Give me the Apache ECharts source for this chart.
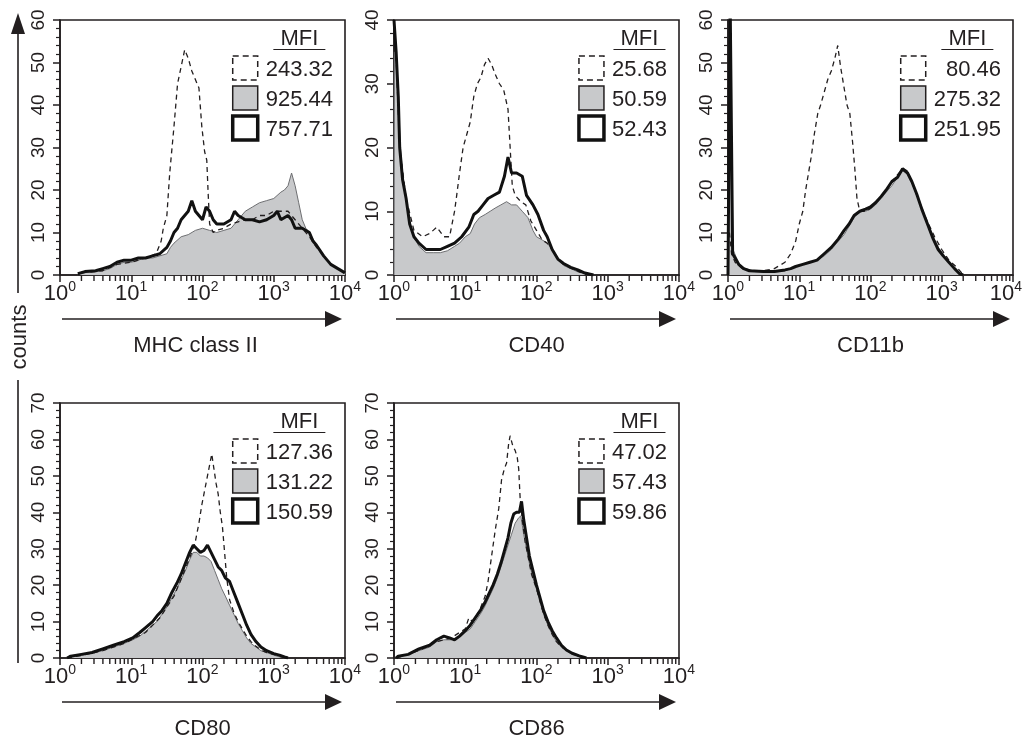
<!DOCTYPE html>
<html>
<head>
<meta charset="utf-8">
<script src="https://cdn.jsdelivr.net/npm/echarts@6/dist/echarts.min.js"></script>
<style>
html,body{margin:0;padding:0;background:#fff;}
#chart{width:1023px;height:740px;}
</style>
</head>
<body>
<div id="chart"></div>
<script>
// ---------- DATA (x = log10 fluorescence, y = counts) ----------
const panelNames = ['MHC class II', 'CD40', 'CD11b', 'CD80', 'CD86'];
const yMaxes = [60, 40, 60, 70, 70];
const xTickExponents = [0, 1, 2, 3, 4];
const minorTickMultipliers = [2, 3, 4, 5, 6, 7, 8, 9];

const mfiDashed = ['243.32', '25.68', '80.46', '127.36', '47.02'];
const mfiGray   = ['925.44', '50.59', '275.32', '131.22', '57.43'];
const mfiThick  = ['757.71', '52.43', '251.95', '150.59', '59.86'];

const mhcGray = [[0.25,0],[0.3,0.5],[0.45,0.8],[0.6,1],[0.7,1.5],[0.8,2.5],[0.9,3],[1.0,3],[1.1,3.5],[1.2,4],[1.3,4],[1.4,4.5],[1.5,5],[1.55,6.5],[1.6,7.5],[1.7,9],[1.8,9.5],[1.9,10.5],[2.0,11],[2.1,10.5],[2.2,10],[2.3,10.5],[2.4,11],[2.5,13],[2.6,15],[2.7,16],[2.8,17],[2.9,17.5],[3.0,18],[3.1,19.5],[3.15,20],[3.2,21],[3.25,24],[3.3,21],[3.35,17],[3.4,13],[3.45,11],[3.5,10],[3.55,8.5],[3.6,7],[3.7,4.5],[3.8,2.5],[3.9,1.5],[4.0,0.5]];
const mhcThick = [[0.25,0.3],[0.35,0.8],[0.5,1],[0.6,1.5],[0.7,2],[0.8,3],[0.9,3.5],[1.0,3.5],[1.1,4],[1.2,4],[1.3,4.5],[1.4,5],[1.5,6.5],[1.55,8],[1.6,10],[1.65,11],[1.7,13],[1.75,14],[1.8,15],[1.85,17.5],[1.9,15],[1.95,14],[2.0,13],[2.05,16],[2.1,15],[2.15,13],[2.2,12],[2.3,12],[2.4,13],[2.45,15],[2.5,14],[2.6,13],[2.7,13],[2.8,12.5],[2.9,13],[3.0,14],[3.05,15],[3.1,13],[3.2,14],[3.25,13],[3.3,11],[3.4,11],[3.5,10],[3.55,8],[3.6,7],[3.7,4.5],[3.8,2.5],[3.9,1.5],[4.0,0.5]];
const mhcDashed = [[0.3,0.5],[0.6,1],[0.8,2.5],[1.0,3],[1.2,4],[1.35,5],[1.42,8],[1.45,11],[1.5,14],[1.54,24],[1.6,35],[1.65,45],[1.7,49],[1.75,53],[1.8,51],[1.85,48],[1.9,46],[1.95,44],[1.99,35],[2.03,29],[2.06,27],[2.08,19],[2.1,12],[2.15,10],[2.2,10.5],[2.3,11],[2.4,12],[2.5,12.5],[2.6,13],[2.7,13],[2.8,14],[2.9,14],[3.0,15],[3.1,15],[3.2,15],[3.3,13],[3.4,11],[3.5,9],[3.6,6.5],[3.7,4.5],[3.8,2.5],[3.9,1.5],[4.0,0.5]];

const cd40Gray = [[0,0],[0.005,35],[0.04,34],[0.07,25],[0.09,20],[0.13,15],[0.17,12],[0.22,8],[0.28,6],[0.35,4.5],[0.45,3.5],[0.55,3.5],[0.65,3.5],[0.75,3.8],[0.85,4.5],[0.92,5],[1.0,6],[1.07,6.5],[1.13,8],[1.2,9],[1.28,9.5],[1.35,10],[1.42,10.5],[1.5,11],[1.58,11.5],[1.65,11],[1.72,11],[1.8,10],[1.88,9],[1.95,7],[2.0,6],[2.08,5.5],[2.15,5],[2.22,4],[2.3,2.5],[2.38,1.5],[2.48,1],[2.58,0.5],[2.7,0.2],[2.8,0]];
const cd40Thick = [[0,40],[0.02,40],[0.03,35],[0.06,28],[0.08,20],[0.12,15],[0.17,12],[0.22,8],[0.28,6],[0.35,5],[0.45,4],[0.55,4],[0.65,4],[0.75,4.5],[0.85,5],[0.95,6],[1.05,7.5],[1.12,9.5],[1.18,10],[1.25,11],[1.32,12],[1.4,12.5],[1.48,13],[1.55,15.5],[1.6,18.5],[1.65,16],[1.72,16],[1.8,15.5],[1.86,12.5],[1.95,11],[2.02,9.5],[2.1,7],[2.15,6],[2.22,4],[2.3,2.5],[2.38,1.8],[2.48,1.2],[2.58,0.8],[2.68,0.3],[2.8,0]];
const cd40Dashed = [[0,40],[0.03,34],[0.08,20],[0.17,12],[0.28,7],[0.4,6],[0.5,6.5],[0.55,7],[0.6,7.5],[0.7,6],[0.78,6],[0.85,10],[0.88,12.5],[0.92,16],[0.97,20],[1.02,22],[1.07,24],[1.12,28],[1.17,30],[1.22,31],[1.27,33],[1.32,34],[1.37,33],[1.42,31.5],[1.48,30],[1.54,29],[1.6,26],[1.63,20],[1.66,14],[1.7,12.5],[1.78,11.5],[1.85,11],[1.92,8.5],[2.0,7],[2.08,5.5],[2.15,5],[2.22,4],[2.3,2.5],[2.4,1.5],[2.5,1],[2.6,0.5],[2.7,0]];

const cd11bGray = [[0,0],[0.02,34],[0.05,34],[0.07,6],[0.12,4],[0.18,2],[0.25,1.5],[0.35,1],[0.5,0.7],[0.65,0.7],[0.8,1],[0.88,1.5],[0.95,2],[1.05,2.5],[1.15,3],[1.25,3.5],[1.35,4.5],[1.45,6],[1.55,8],[1.63,9.5],[1.7,11.5],[1.77,13.5],[1.85,15],[1.93,15],[2.0,15.5],[2.07,16.5],[2.15,18],[2.22,19.5],[2.3,21],[2.38,23],[2.45,24.5],[2.52,24],[2.58,22],[2.65,19],[2.72,16],[2.8,12],[2.88,9],[2.95,6.5],[3.02,5],[3.1,3],[3.18,1.5],[3.25,0.5],[3.3,0]];
const cd11bThick = [[0,0],[0.03,65],[0.05,65],[0.065,5],[0.1,4],[0.15,2.5],[0.22,1.5],[0.3,1],[0.5,0.8],[0.65,0.8],[0.8,1.2],[0.88,1.5],[0.95,2],[1.05,2.5],[1.15,3],[1.25,3.5],[1.35,5],[1.45,6.5],[1.55,8.5],[1.63,10.5],[1.7,12],[1.77,14],[1.85,15],[1.93,15.5],[2.0,16],[2.07,17],[2.15,18.5],[2.22,20],[2.3,22],[2.38,23],[2.45,25],[2.52,24],[2.58,22],[2.65,19],[2.72,15.5],[2.8,12],[2.88,8.5],[2.95,6],[3.02,4.5],[3.1,3],[3.18,1.5],[3.25,0.3],[3.3,0]];
const cd11bDashed = [[0.02,10],[0.05,5],[0.1,3],[0.2,1.5],[0.35,1],[0.5,1],[0.65,1.5],[0.75,2.5],[0.8,3],[0.88,5],[0.95,8],[1.0,12],[1.05,15],[1.09,20],[1.13,24],[1.17,28],[1.21,33],[1.26,38],[1.3,40],[1.35,43],[1.4,46],[1.45,48],[1.5,51],[1.54,54],[1.58,49],[1.62,45],[1.67,40],[1.71,38],[1.75,31],[1.78,25],[1.81,18],[1.85,15],[1.95,15],[2.05,16.5],[2.15,18.5],[2.25,20.5],[2.35,23],[2.45,25],[2.52,24.5],[2.6,21],[2.7,16.5],[2.8,12.5],[2.9,9],[3.0,6],[3.1,3.5],[3.2,2],[3.28,0.5],[3.33,0]];

const cd80Gray = [[0.1,0],[0.13,0.5],[0.3,0.7],[0.45,1.5],[0.6,2],[0.75,3],[0.9,4],[1.02,5],[1.12,6],[1.21,7.5],[1.3,9],[1.36,10],[1.43,12],[1.5,14],[1.57,16.5],[1.64,19],[1.7,21.5],[1.76,24],[1.82,27],[1.87,29],[1.92,29],[1.97,28],[2.02,28],[2.07,27.5],[2.12,26.5],[2.17,24],[2.22,21.5],[2.27,19],[2.32,17],[2.38,14.5],[2.44,12],[2.5,9.5],[2.56,7.5],[2.62,5.5],[2.68,4],[2.75,3],[2.82,2],[2.9,1.5],[3.0,0.8],[3.08,0.3],[3.15,0]];
const cd80Thick = [[0.1,0],[0.15,0.5],[0.3,1],[0.45,1.5],[0.6,2.5],[0.75,3.5],[0.9,4.5],[1.02,5.5],[1.12,7],[1.21,8.5],[1.3,10],[1.36,11.5],[1.43,13],[1.5,15],[1.57,18],[1.64,20.5],[1.7,23],[1.76,26],[1.82,29],[1.87,31],[1.92,30],[1.97,29],[2.02,29.5],[2.07,31],[2.12,29],[2.17,27],[2.22,25],[2.27,24],[2.32,22],[2.38,21],[2.44,18],[2.5,15],[2.56,12],[2.62,9],[2.68,6.5],[2.75,4.5],[2.82,3],[2.9,2],[3.0,1.2],[3.08,0.8],[3.15,0.3],[3.2,0]];
const cd80Dashed = [[0.1,0],[0.3,0.7],[0.6,2],[0.9,4],[1.2,7],[1.4,11],[1.6,17],[1.75,24],[1.85,29],[1.9,32],[1.95,37],[1.99,42],[2.03,46],[2.06,49],[2.09,52],[2.13,56],[2.16,52],[2.19,48],[2.22,45],[2.25,40],[2.28,36],[2.31,29],[2.34,22],[2.38,16],[2.44,12.5],[2.5,10],[2.56,8],[2.62,6],[2.68,4.5],[2.75,3.2],[2.82,2.2],[2.9,1.5],[3.0,1],[3.1,0.4],[3.18,0]];

const cd86Gray = [[0.03,0],[0.06,0.5],[0.2,1],[0.35,2],[0.5,3],[0.6,4.5],[0.7,5],[0.8,5],[0.9,5.5],[1.0,7],[1.07,8],[1.14,10],[1.21,12],[1.27,14],[1.33,16.5],[1.39,19],[1.45,22],[1.5,25],[1.55,28],[1.6,31],[1.65,34],[1.7,37],[1.75,38.5],[1.78,39],[1.82,34],[1.86,30],[1.9,26],[1.95,22],[2.0,19],[2.05,15.5],[2.1,12],[2.16,9],[2.22,6.5],[2.28,4.5],[2.35,3],[2.42,2],[2.5,1],[2.6,0.5],[2.7,0]];
const cd86Thick = [[0.03,0],[0.06,0.5],[0.2,1],[0.35,2.5],[0.5,3.5],[0.6,5],[0.7,6],[0.78,5.5],[0.85,5],[0.92,6],[1.0,7.5],[1.07,9],[1.14,11],[1.21,13],[1.27,15],[1.33,17.5],[1.39,20],[1.45,23],[1.5,26],[1.55,29.5],[1.6,33],[1.64,37],[1.68,39.5],[1.72,40],[1.76,40],[1.79,43],[1.82,38],[1.86,33],[1.9,28],[1.95,24],[2.0,20],[2.05,16.5],[2.1,13],[2.16,10],[2.22,7.5],[2.28,5.5],[2.35,3.5],[2.42,2.2],[2.5,1.3],[2.6,0.6],[2.7,0]];
const cd86Dashed = [[0.03,0],[0.2,1],[0.4,2.5],[0.6,4.5],[0.8,5.5],[1.0,8],[1.05,11],[1.1,10],[1.2,13],[1.28,17],[1.32,21],[1.37,28],[1.42,35],[1.47,41],[1.51,49],[1.55,52],[1.58,53.5],[1.61,59],[1.63,61],[1.67,58],[1.7,57],[1.73,55],[1.75,52],[1.77,44],[1.8,38],[1.84,32],[1.88,28],[1.93,23],[2.0,19],[2.05,15.5],[2.1,12],[2.16,9],[2.22,6.5],[2.28,4.5],[2.35,3],[2.45,1.8],[2.55,0.8],[2.65,0]];

const grayData   = [mhcGray, cd40Gray, cd11bGray, cd80Gray, cd86Gray];
const thickData  = [mhcThick, cd40Thick, cd11bThick, cd80Thick, cd86Thick];
const dashedData = [mhcDashed, cd40Dashed, cd11bDashed, cd80Dashed, cd86Dashed];

// ---------- LAYOUT / STYLE ----------
const FONT = "'Liberation Sans', Arial, Helvetica, sans-serif";
const INK = '#231f20';
const GRAY_FILL = '#c8c9cb';
const panels = [
  {left: 60,  top: 20,  width: 285, height: 255, namePad: [0, 14, 0, 0]},
  {left: 394, top: 20,  width: 285, height: 255, namePad: 0},
  {left: 728, top: 20,  width: 285, height: 255, namePad: 0, shiftLastLabel: true},
  {left: 60,  top: 403, width: 285, height: 255, namePad: 0},
  {left: 394, top: 403, width: 285, height: 255, namePad: 0}
];

const toLin = arr => arr.map(p => [Math.pow(10, p[0]), p[1]]);
const minorTickValues = [];
for (let n = 0; n < 4; n++) minorTickMultipliers.forEach(k => minorTickValues.push([k * Math.pow(10, n), 0]));

const ctx = document.createElement('canvas').getContext('2d');
ctx.font = '22px ' + FONT;

const grid = [], xAxis = [], yAxis = [], series = [], graphic = [];
const xMin = Math.pow(10, xTickExponents[0]);
const xMax = Math.pow(10, xTickExponents[xTickExponents.length - 1]);

panels.forEach((p, i) => {
  grid.push({left: p.left, top: p.top, width: p.width, height: p.height, show: true,
    borderColor: INK, borderWidth: 1.6, backgroundColor: 'transparent',
    containLabel: false, outerBoundsMode: 'none'});
  xAxis.push({
    type: 'log', logBase: 10, gridIndex: i, min: xMin, max: xMax,
    name: panelNames[i], nameLocation: 'middle', nameGap: 60,
    nameTextStyle: {fontSize: 22, color: INK, fontFamily: FONT, padding: p.namePad},
    axisLine: {show: true, lineStyle: {color: INK, width: 1.6}},
    axisTick: {show: true, inside: false, length: 7, lineStyle: {color: INK, width: 1.5}},
    minorTick: {show: false}, splitLine: {show: false}, minorSplitLine: {show: false},
    axisLabel: {
      margin: 5, color: INK, fontFamily: FONT, fontSize: 22,
      formatter: v => {
        const e = Math.round(Math.log10(v));
        const pad = (p.shiftLastLabel && e === xTickExponents[xTickExponents.length - 1]) ? '{p|}' : '';
        return '{a|10}{b|' + e + '}' + pad;
      },
      rich: {
        a: {fontSize: 22, fontFamily: FONT, color: INK, lineHeight: 28},
        b: {fontSize: 14, fontFamily: FONT, color: INK, verticalAlign: 'top', lineHeight: 12},
        p: {width: 14, lineHeight: 12}
      }
    }
  });
  yAxis.push({
    type: 'value', gridIndex: i, min: 0, max: yMaxes[i], interval: 10,
    axisLine: {show: true, lineStyle: {color: INK, width: 1.6}},
    axisTick: {show: true, length: 7, lineStyle: {color: INK, width: 1.5}},
    minorTick: {show: true, splitNumber: 5, length: 4, lineStyle: {color: INK, width: 1.2}},
    splitLine: {show: false},
    axisLabel: {rotate: 90, margin: 12, fontSize: 19, color: INK, fontFamily: FONT}
  });
  series.push({
    type: 'line', name: 'gray', xAxisIndex: i, yAxisIndex: i, data: toLin(grayData[i]),
    symbol: 'none', z: 2, clip: true,
    lineStyle: {color: '#6d6e71', width: 1}, areaStyle: {color: GRAY_FILL, opacity: 1}
  });
  series.push({
    type: 'line', name: 'dashed', xAxisIndex: i, yAxisIndex: i, data: toLin(dashedData[i]),
    symbol: 'none', z: 3, clip: true,
    lineStyle: {color: INK, width: 1.3, type: [5, 4]}
  });
  series.push({
    type: 'line', name: 'thick', xAxisIndex: i, yAxisIndex: i, data: toLin(thickData[i]),
    symbol: 'none', z: 4, clip: true,
    lineStyle: {color: '#111', width: 3}
  });
  // minor log ticks (2..9 x 10^n) placed through the x scale
  series.push({
    type: 'custom', name: 'minorTicks', xAxisIndex: i, yAxisIndex: i, data: minorTickValues,
    clip: false, silent: true, z: 6,
    renderItem: (params, api) => {
      const c = api.coord([api.value(0), api.value(1)]);
      return {type: 'line', shape: {x1: c[0], y1: c[1] + 0.8, x2: c[0], y2: c[1] + 6},
        style: {stroke: INK, lineWidth: 1.4}};
    }
  });

  // legend (MFI table)
  const right = p.left + p.width;
  const textRight = right - 12;
  const vals = [mfiDashed[i], mfiGray[i], mfiThick[i]];
  const maxW = Math.max(...vals.map(v => ctx.measureText(v).width));
  const colCenter = textRight - maxW / 2;
  const boxLeft = textRight - maxW - 8 - 25;
  graphic.push({type: 'text', x: colCenter, y: p.top + 19, z: 10,
    style: {text: 'MFI', fontSize: 22, fontFamily: FONT, fill: INK, textAlign: 'center', textVerticalAlign: 'middle'}});
  graphic.push({type: 'line', z: 10, shape: {x1: colCenter - 26, y1: p.top + 29.5, x2: colCenter + 26, y2: p.top + 29.5},
    style: {stroke: INK, lineWidth: 1.2}});
  const boxStyles = [
    {fill: '#fff', stroke: INK, lineWidth: 1.5, lineDash: [6, 4]},
    {fill: GRAY_FILL, stroke: INK, lineWidth: 1.5},
    {fill: '#fff', stroke: '#111', lineWidth: 3.5}
  ];
  vals.forEach((v, k) => {
    const by = p.top + 36 + k * 30;
    graphic.push({type: 'rect', z: 10, shape: {x: boxLeft, y: by, width: 25, height: 24}, style: boxStyles[k]});
    graphic.push({type: 'text', z: 10, x: textRight, y: by + 14,
      style: {text: v, fontSize: 22, fontFamily: FONT, fill: INK, textAlign: 'right', textVerticalAlign: 'middle'}});
  });

  // x arrow
  const ay = p.top + p.height + 44;
  graphic.push({type: 'line', z: 10, shape: {x1: p.left + 2, y1: ay, x2: right - 18, y2: ay}, style: {stroke: INK, lineWidth: 1.6}});
  graphic.push({type: 'polygon', z: 10, shape: {points: [[right - 20, ay - 8], [right - 3, ay], [right - 20, ay + 8]]}, style: {fill: INK}});
});

// counts axis
graphic.push({type: 'line', z: 10, shape: {x1: 18, y1: 30, x2: 18, y2: 293}, style: {stroke: INK, lineWidth: 1.6}});
graphic.push({type: 'polygon', z: 10, shape: {points: [[11, 34], [18, 13], [25, 34]]}, style: {fill: INK}});
graphic.push({type: 'line', z: 10, shape: {x1: 18, y1: 380, x2: 18, y2: 663}, style: {stroke: INK, lineWidth: 1.6}});
graphic.push({type: 'text', z: 10, x: 20, y: 337, rotation: Math.PI / 2,
  style: {text: 'counts', fontSize: 22, fontFamily: FONT, fill: INK, textAlign: 'center', textVerticalAlign: 'middle'}});

const chart = echarts.init(document.getElementById('chart'), null, {renderer: 'canvas'});
chart.setOption({
  animation: false,
  backgroundColor: '#fff',
  textStyle: {fontFamily: FONT},
  grid, xAxis, yAxis, series, graphic
});
</script>
</body>
</html>
